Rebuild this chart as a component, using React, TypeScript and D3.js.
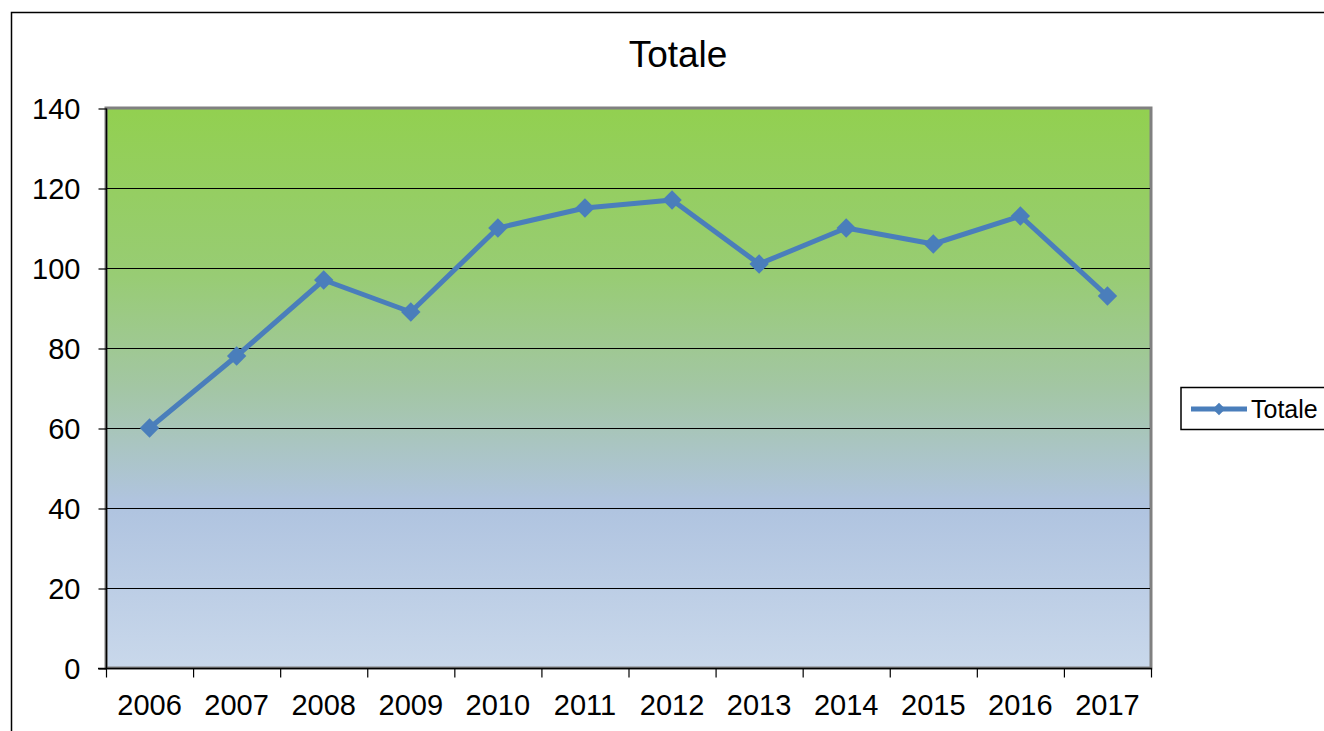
import { useRef, useEffect } from "react";
import * as d3 from "d3";

const years = ["2006", "2007", "2008", "2009", "2010", "2011", "2012", "2013", "2014", "2015", "2016", "2017"];
const totale = [60, 78, 97, 89, 110, 115, 117, 101, 110, 106, 113, 93];
const yTicks = [0, 20, 40, 60, 80, 100, 120, 140];

const dims = {
  width: 1324,
  height: 731,
  left: 106,
  right: 1151,
  top: 108,
  bottom: 668,
};

const font = "'Liberation Sans', Arial, sans-serif";

const App = () => {
  const ref = useRef<SVGSVGElement>(null);

  useEffect(() => {
    document.body.style.margin = "0";
    const svg = d3.select(ref.current);
    svg.selectAll("*").remove();

    const x = d3.scaleBand<string>().domain(years).range([dims.left, dims.right]);
    const y = d3.scaleLinear().domain([0, 140]).range([dims.bottom, dims.top]);

    // gradient for the plot area
    const defs = svg.append("defs");
    const grad = defs
      .append("linearGradient")
      .attr("id", "bg")
      .attr("x1", 0)
      .attr("y1", 0)
      .attr("x2", 0)
      .attr("y2", 1);
    const stops: [number, string][] = [
      [0, "#92d050"],
      [0.3, "#98cc74"],
      [0.5, "#a3c6a4"],
      [0.7, "#b0c4de"],
      [0.72, "#b0c4e0"],
      [1, "#c9d8eb"],
    ];
    stops.forEach(([o, c]) => grad.append("stop").attr("offset", o).attr("stop-color", c));

    // outer chart frame
    svg
      .append("rect")
      .attr("x", 11.5)
      .attr("y", 12.5)
      .attr("width", dims.width)
      .attr("height", dims.height)
      .attr("fill", "white")
      .attr("stroke", "black")
      .attr("stroke-width", 1.5);

    // plot area
    svg
      .append("rect")
      .attr("x", dims.left)
      .attr("y", dims.top)
      .attr("width", dims.right - dims.left)
      .attr("height", dims.bottom - dims.top)
      .attr("fill", "url(#bg)")
      .attr("stroke", "#808080")
      .attr("stroke-width", 3);

    // gridlines
    svg
      .append("g")
      .selectAll("line")
      .data(yTicks.filter((t) => t > 0 && t < 140))
      .enter()
      .append("line")
      .attr("x1", dims.left)
      .attr("x2", dims.right - 1)
      .attr("y1", (d) => y(d) + 0.5)
      .attr("y2", (d) => y(d) + 0.5)
      .attr("stroke", "black")
      .attr("stroke-width", 1);

    // y axis
    const yAxis = d3.axisLeft(y).tickValues(yTicks).tickSize(8).tickPadding(6);
    const yg = svg.append("g").attr("transform", `translate(${dims.left + 0.5},0.5)`).call(yAxis);
    yg.select(".domain").attr("stroke", "black").attr("stroke-width", 1.5).attr("d", `M0,${dims.top}V${dims.bottom}`);
    yg.selectAll(".tick line").attr("stroke", "black").attr("stroke-width", 1.2);
    yg.selectAll(".tick text")
      .attr("font-family", font)
      .attr("font-size", 29)
      .attr("fill", "black")
      .attr("dy", "0.36em")
      .attr("x", -26);

    // x axis with ticks on category boundaries
    const xg = svg.append("g").attr("transform", `translate(0,${dims.bottom + 0.5})`);
    xg.append("line")
      .attr("x1", dims.left - 8)
      .attr("x2", dims.right + 1)
      .attr("stroke", "black")
      .attr("stroke-width", 1.5);
    const bounds = years.map((d) => x(d) as number).concat([dims.right]);
    xg.selectAll("line.tk")
      .data(bounds)
      .enter()
      .append("line")
      .attr("class", "tk")
      .attr("x1", (d) => d + 0.5)
      .attr("x2", (d) => d + 0.5)
      .attr("y1", 0)
      .attr("y2", 9)
      .attr("stroke", "black")
      .attr("stroke-width", 1.2);
    xg.selectAll("text")
      .data(years)
      .enter()
      .append("text")
      .attr("x", (d) => (x(d) as number) + x.bandwidth() / 2)
      .attr("y", 46)
      .attr("text-anchor", "middle")
      .attr("font-family", font)
      .attr("font-size", 29)
      .attr("fill", "black")
      .text((d) => d);

    // line series
    const pts = years.map((yr, i) => [(x(yr) as number) + x.bandwidth() / 2, y(totale[i])] as [number, number]);
    const line = d3.line();
    svg
      .append("path")
      .attr("d", line(pts))
      .attr("fill", "none")
      .attr("stroke", "#4a7ebb")
      .attr("stroke-width", 5)
      .attr("stroke-linejoin", "round");

    const diamond = d3.symbol().type(d3.symbolDiamond2).size(240);
    svg
      .append("g")
      .selectAll("path")
      .data(pts)
      .enter()
      .append("path")
      .attr("transform", (d) => `translate(${d[0]},${d[1]})`)
      .attr("d", diamond() as string)
      .attr("fill", "#4a7ebb");

    // title
    svg
      .append("text")
      .attr("x", 678)
      .attr("y", 67)
      .attr("text-anchor", "middle")
      .attr("font-family", font)
      .attr("font-size", 37)
      .attr("fill", "black")
      .text("Totale");

    // legend
    const lg = svg.append("g");
    lg.append("rect")
      .attr("x", 1181)
      .attr("y", 387.5)
      .attr("width", 160)
      .attr("height", 42)
      .attr("fill", "white")
      .attr("stroke", "black")
      .attr("stroke-width", 1.5);
    lg.append("line")
      .attr("x1", 1191)
      .attr("x2", 1247)
      .attr("y1", 409)
      .attr("y2", 409)
      .attr("stroke", "#4a7ebb")
      .attr("stroke-width", 5);
    lg.append("path")
      .attr("transform", "translate(1219,409)")
      .attr("d", d3.symbol().type(d3.symbolDiamond2).size(100)() as string)
      .attr("fill", "#4a7ebb");
    lg.append("text")
      .attr("x", 1251)
      .attr("y", 418)
      .attr("font-family", font)
      .attr("font-size", 25)
      .attr("fill", "black")
      .text("Totale");
  }, []);

  return <svg ref={ref} width={dims.width} height={dims.height} style={{ display: "block" }}></svg>;
};

export default App;
